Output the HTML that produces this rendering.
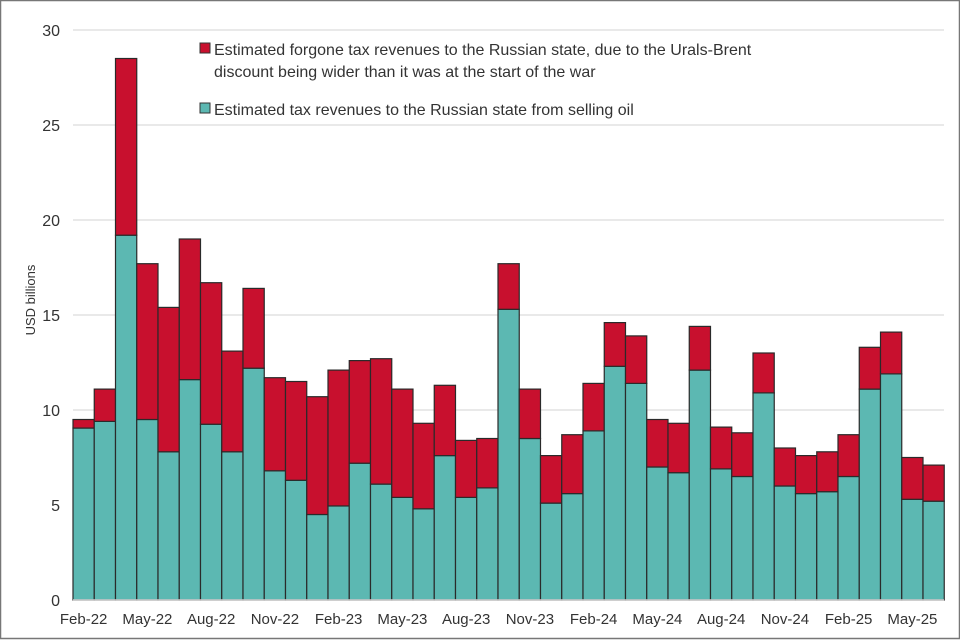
<!DOCTYPE html>
<html><head><meta charset="utf-8"><style>
html,body{margin:0;padding:0;background:#fff}
svg{display:block}
text{font-family:"Liberation Sans",Arial,sans-serif;fill:#333}
</style></head><body>
<svg id="s" width="960" height="640" xmlns="http://www.w3.org/2000/svg">
<rect x="0.5" y="0.5" width="959" height="638" fill="#fff" stroke="#777" stroke-width="1.5"/>
<g id="grid"></g>
<g id="bars"></g>
<rect x="200" y="43" width="10" height="10" fill="#c8102e" stroke="#333" stroke-width="1"/>
<text x="214" y="55" font-size="16">Estimated forgone tax revenues to the Russian state, due to the Urals-Brent</text>
<text x="214" y="77" font-size="16">discount being wider than it was at the start of the war</text>
<rect x="200" y="103" width="10" height="10" fill="#5cb8b2" stroke="#333" stroke-width="1"/>
<text x="214" y="115" font-size="16">Estimated tax revenues to the Russian state from selling oil</text>
<text transform="translate(35,300) rotate(-90)" font-size="13" text-anchor="middle">USD billions</text>
<g id="lab"></g>
</svg>
<script>
var tot=[9.5,11.1,28.5,17.7,15.4,19.0,16.7,13.1,16.4,11.7,11.5,10.7,12.1,12.6,12.7,11.1,9.3,11.3,8.4,8.5,17.7,11.1,7.6,8.7,11.4,14.6,13.9,9.5,9.3,14.4,9.1,8.8,13.0,8.0,7.6,7.8,8.7,13.3,14.1,7.5,7.1];
var tea=[9.05,9.4,19.2,9.5,7.8,11.6,9.25,7.8,12.2,6.8,6.3,4.5,4.95,7.2,6.1,5.4,4.8,7.6,5.4,5.9,15.3,8.5,5.1,5.6,8.9,12.3,11.4,7.0,6.7,12.1,6.9,6.5,10.9,6.0,5.6,5.7,6.5,11.1,11.9,5.3,5.2];
var NS="http://www.w3.org/2000/svg";
function el(p,t,a,txt){var e=document.createElementNS(NS,t);for(var k in a)e.setAttribute(k,a[k]);if(txt)e.textContent=txt;document.getElementById(p).appendChild(e);}
var y0=600,k=19,x0=73,w=21.25;
for(var i=0;i<=6;i++){var y=y0-i*5*k;el('grid','line',{x1:73,x2:944,y1:y,y2:y,stroke:'#e2e2e2','stroke-width':1.5});el('lab','text',{x:60,y:y+6,'font-size':16,'text-anchor':'end'},String(i*5));}
for(var i=0;i<41;i++){var x=x0+i*w;
el('bars','rect',{x:x,y:y0-tea[i]*k,width:w,height:tea[i]*k,fill:'#5cb8b2',stroke:'#2a2a2a','stroke-width':1.2});
el('bars','rect',{x:x,y:y0-tot[i]*k,width:w,height:(tot[i]-tea[i])*k,fill:'#c8102e',stroke:'#2a2a2a','stroke-width':1.2});}
el('bars','line',{x1:73,x2:944,y1:600,y2:600,stroke:'#d0d0d0','stroke-width':1.5});
var L=["Feb-22","May-22","Aug-22","Nov-22","Feb-23","May-23","Aug-23","Nov-23","Feb-24","May-24","Aug-24","Nov-24","Feb-25","May-25"];
for(var j=0;j<L.length;j++){var c=x0+(j*3+0.5)*w;el('lab','text',{x:c,y:624,'font-size':15,'text-anchor':'middle'},L[j]);}
</script>
</body></html>
